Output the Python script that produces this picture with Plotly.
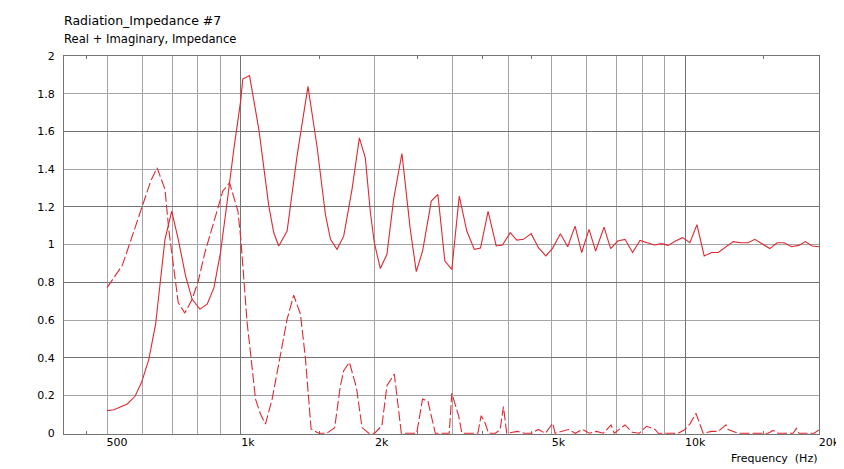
import plotly.graph_objects as go
import math

# ---------------- data ----------------
real_freq = [500, 518, 555, 578, 598, 621, 643, 660, 675, 699, 723, 751, 777, 809, 840, 870, 900, 931, 964,
             1000, 1010, 1046, 1098, 1156, 1186, 1217, 1271, 1338, 1416, 1484, 1550, 1591, 1646, 1704, 1779,
             1848, 1906, 1957, 1997, 2060, 2132, 2207, 2304, 2406, 2482, 2564, 2683, 2776, 2878, 2984, 3101,
             3225, 3353, 3462, 3601, 3755, 3880, 4038, 4178, 4325, 4501, 4674, 4856, 5024, 5237, 5439, 5651,
             5848, 6075, 6286, 6566, 6794, 7046, 7320, 7613, 7911, 8215, 8518, 8845, 9158, 9510, 9861, 10247,
             10625, 11033, 11458, 11865, 12348, 12823, 13344, 13856, 14345, 14918, 15501, 16096, 16694, 17336,
             18009, 18634, 19293, 20000]
real_vals = [0.12, 0.125, 0.155, 0.196, 0.27, 0.393, 0.578, 0.816, 1.028, 1.178, 1.028, 0.834, 0.71, 0.658,
             0.684, 0.772, 0.958, 1.222, 1.504, 1.769, 1.878, 1.896, 1.61, 1.204, 1.063, 0.993, 1.072, 1.469,
             1.839, 1.52, 1.16, 1.028, 0.975, 1.045, 1.293, 1.566, 1.46, 1.169, 1.01, 0.873, 0.949, 1.24,
             1.483, 1.081, 0.857, 0.966, 1.231, 1.266, 0.913, 0.869, 1.257, 1.072, 0.975, 0.982, 1.176, 0.993,
             0.998, 1.063, 1.024, 1.028, 1.058, 0.984, 0.94, 0.979, 1.058, 0.989, 1.098, 0.958, 1.081, 0.966,
             1.093, 0.979, 1.019, 1.028, 0.958, 1.022, 1.01, 0.998, 1.005, 0.996, 1.019, 1.037, 1.01, 1.106,
             0.94, 0.958, 0.958, 0.987, 1.016, 1.01, 1.01, 1.028, 1.005, 0.979, 1.01, 1.01, 0.989, 0.996,
             1.016, 0.993, 0.989]

imag_freq = [500, 518, 541, 563, 590, 609, 627, 648, 675, 689, 707, 723, 748, 777, 802, 830, 862, 893, 911,
             943, 959, 985, 1000, 1019, 1033, 1051, 1079, 1107, 1136, 1176, 1228, 1271, 1315, 1362, 1398, 1439,
             1497, 1561, 1626, 1675, 1704, 1755, 1820, 1874, 1940, 2000, 2077, 2132, 2215, 2245, 2297, 2385,
             2486, 2512, 2564, 2636, 2739, 2844, 2944, 2984, 3090, 3144, 3270, 3414, 3474, 3547, 3609, 3741,
             3833, 3899, 3966, 4194, 4348, 4508, 4674, 4847, 5033, 5096, 5459, 5660, 5869, 6086, 6310, 6542,
             6808, 6924, 7320, 7601, 7882, 8185, 8551, 8698, 9158, 9645, 9984, 10247, 10571, 10975, 11458,
             11865, 12348, 12494, 13152, 15365, 15771, 16180, 17489, 17790, 18041, 19499, 20000]
imag_vals = [0.772, 0.825, 0.89, 1.01, 1.151, 1.249, 1.337, 1.407, 1.293, 1.072, 0.852, 0.693, 0.637, 0.71,
             0.807, 0.958, 1.09, 1.222, 1.284, 1.328, 1.271, 1.178, 1.028, 0.781, 0.587, 0.429, 0.181, 0.102,
             0.049, 0.181, 0.429, 0.605, 0.732, 0.631, 0.393, 0.023, 0.0, 0.0, 0.03, 0.252, 0.331, 0.376,
             0.243, 0.03, 0.0, 0.0, 0.04, 0.252, 0.314, 0.19, 0.0, 0.0, 0.0, 0.058, 0.181, 0.17, 0.0, 0.0,
             0.0, 0.212, 0.093, 0.0, 0.0, 0.0, 0.093, 0.053, 0.0, 0.0, 0.02, 0.141, 0.0, 0.01, 0.0, 0.0,
             0.02, 0.0, 0.053, 0.0, 0.02, 0.0, 0.02, 0.0, 0.01, 0.0, 0.044, 0.0, 0.044, 0.005, 0.0, 0.037,
             0.02, 0.0, 0.0, 0.0, 0.02, 0.05, 0.106, 0.0, 0.01, 0.01, 0.044, 0.02, 0.0, 0.0, 0.015, 0.0, 0.0,
             0.026, 0.0, 0.0, 0.018]

x_light_grid = [500, 600, 700, 800, 900, 2000, 3000, 4000, 5000, 6000, 7000, 8000, 9000]
x_dark_grid = [1000, 10000]
x_label_vals_a = [500, 10000, 20000]      # three-character labels
x_label_text_a = ["500", "10k", "20k"]
x_label_vals_b = [1000, 2000, 5000]       # two-character labels
x_label_text_b = ["1k", "2k", "5k"]
x_small_ticks = [450, 1500, 2500, 3500, 4500, 15000]
y_ticks = [0, 0.2, 0.4, 0.6, 0.8, 1, 1.2, 1.4, 1.6, 1.8, 2]
y_tick_text = ["0", "0.2", "0.4", "0.6", "0.8", "1", "1.2", "1.4", "1.6", "1.8", "2"]
y_dark_grid = [0.4, 0.8, 1.2, 1.6]

# ---------------- styling ----------------
FONT = "DejaVu Sans"
RED = "#e02830"
LIGHT = "#a4a4a4"
DARK = "#747474"
xr = [math.log10(400), math.log10(20000)]
yr = [-0.004, 2]

fig = go.Figure()
fig.add_trace(go.Scatter(x=real_freq, y=real_vals, mode="lines",
                         line=dict(color=RED, width=1.1), hoverinfo="skip", showlegend=False))
fig.add_trace(go.Scatter(x=imag_freq, y=imag_vals, mode="lines",
                         line=dict(color=RED, width=1.1, dash="10px,3px"), hoverinfo="skip", showlegend=False))
# empty traces so the overlay axes (dark grid, label axes) exist
for xa, ya in [("x2", "y2"), ("x3", "y"), ("x4", "y")]:
    fig.add_trace(go.Scatter(x=[1000], y=[None], xaxis=xa, yaxis=ya, mode="lines",
                             hoverinfo="skip", showlegend=False))

tickfont = dict(family=FONT, size=11, color="#000000")
common_x = dict(type="log", range=xr, zeroline=False, fixedrange=True, ticks="")

fig.update_layout(
    width=844, height=469,
    margin=dict(l=56, r=31, t=48, b=43),
    paper_bgcolor="white", plot_bgcolor="white",
    font=dict(family=FONT, size=11, color="#000000"),
    xaxis=dict(**common_x, tickmode="array", tickvals=x_light_grid, showticklabels=False,
               showgrid=True, gridcolor=LIGHT, gridwidth=1,
               showline=True, linecolor=DARK, linewidth=1, mirror="ticks", layer="below traces",
               minor=dict(tickmode="array", tickvals=x_small_ticks, ticks="inside", ticklen=3,
                          tickcolor=DARK, showgrid=False)),
    xaxis2=dict(**common_x, overlaying="x", side="bottom", tickmode="array",
                tickvals=x_dark_grid, showticklabels=False, showgrid=True, gridcolor=DARK,
                gridwidth=1, showline=False),
    xaxis3=dict(**common_x, overlaying="x", side="bottom", tickmode="array",
                tickvals=x_label_vals_a, ticktext=x_label_text_a, tickfont=tickfont,
                ticklabelshift=10, showgrid=False, showline=False),
    xaxis4=dict(**common_x, overlaying="x", side="bottom", tickmode="array",
                tickvals=x_label_vals_b, ticktext=x_label_text_b, tickfont=tickfont,
                ticklabelshift=7, showgrid=False, showline=False),
    yaxis=dict(range=yr, tickmode="array", tickvals=y_ticks, ticktext=y_tick_text,
               showgrid=True, gridcolor=LIGHT, gridwidth=1, ticks="", tickfont=tickfont,
               ticklabelstandoff=6, showline=True, linecolor=DARK, linewidth=1, mirror=True,
               layer="below traces", zeroline=False, fixedrange=True),
    yaxis2=dict(range=yr, overlaying="y", side="left", tickmode="array", tickvals=y_dark_grid,
                showgrid=True, gridcolor=DARK, gridwidth=1, showticklabels=False, ticks="",
                showline=False, zeroline=False, fixedrange=True),
    annotations=[
        dict(text="Radiation_Impedance #7", xref="paper", yref="paper", x=-0.0026, y=1.0926,
             xanchor="left", yanchor="middle", showarrow=False,
             font=dict(family=FONT, size=12.5, color="#000000")),
        dict(text="Real + Imaginary, Impedance", xref="paper", yref="paper", x=-0.0026, y=1.045,
             xanchor="left", yanchor="middle", showarrow=False,
             font=dict(family=FONT, size=11.6, color="#000000")),
        dict(text="Frequency\u00a0 (Hz)", xref="paper", yref="paper", x=1.0, y=-0.0635,
             xanchor="right", yanchor="middle", showarrow=False,
             font=dict(family=FONT, size=11, color="#000000")),
    ],
)

fig.write_html("out.html")
